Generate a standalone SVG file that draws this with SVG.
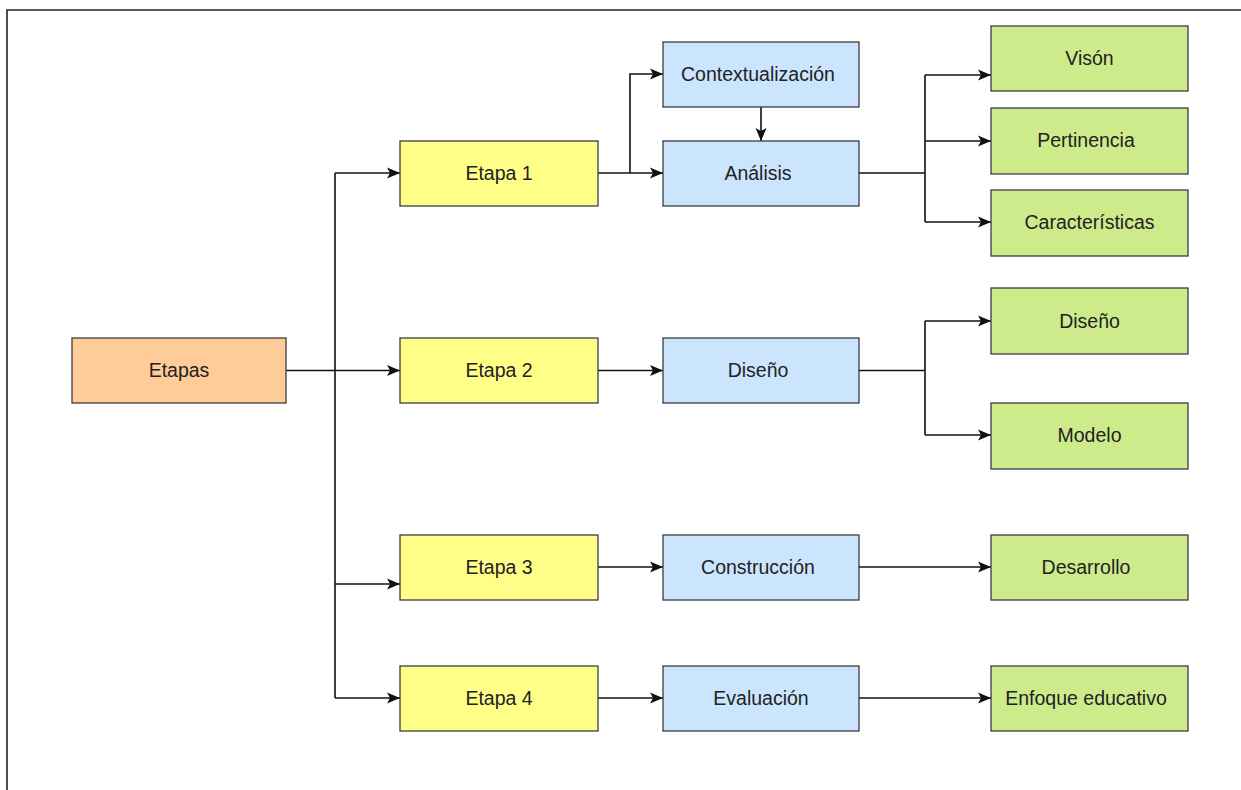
<svg xmlns="http://www.w3.org/2000/svg" width="1241" height="790" viewBox="0 0 1241 790">
  <defs>
    <style>
      .box { stroke: #3a3c40; stroke-width: 1.3; }
      .root { fill: #ffcc99; }
      .stage { fill: #ffff88; }
      .phase { fill: #cce5ff; }
      .leaf { fill: #cdeb8b; }
      .lbl { font-family: "Liberation Sans", Arial, sans-serif; font-size: 19.5px; fill: #222; text-anchor: middle; }
      .line { fill: none; stroke: #111; stroke-width: 1.6; }
      .edge { fill: none; stroke: #111; stroke-width: 1.6; marker-end: url(#arrow); }
      .frame { fill: none; stroke: #222; stroke-width: 1.6; }
    </style>
    <marker id="arrow" markerUnits="userSpaceOnUse" markerWidth="14" markerHeight="13" refX="13" refY="6.5" orient="auto">
      <path d="M0,1 L13,6.5 L0,12 L3,6.5 Z" fill="#111"/>
    </marker>
  </defs>

  <rect width="1241" height="790" fill="#ffffff"/>
  <!-- outer frame (top and left edges) -->
  <path class="frame" d="M1241,10 H7 V790"/>

  <g id="connectors">
    <!-- Etapas to the four stages -->
    <path class="line" d="M286,370.5 H335 M335,173 V698"/>
    <path class="edge" d="M335,173 H400"/>
    <path class="edge" d="M335,370.5 H400"/>
    <path class="edge" d="M335,584 H400"/>
    <path class="edge" d="M335,698 H400"/>
    <!-- Etapa 1 -->
    <path class="edge" d="M630,173 V74 H663"/>
    <path class="edge" d="M598,173 H663"/>
    <path class="edge" d="M761,107 V141"/>
    <!-- Análisis to leaves -->
    <path class="line" d="M859,173 H925 M925,75 V222"/>
    <path class="edge" d="M925,75 H991"/>
    <path class="edge" d="M925,141 H991"/>
    <path class="edge" d="M925,222 H991"/>
    <!-- Etapa 2 -->
    <path class="edge" d="M598,370.5 H663"/>
    <path class="line" d="M859,370.5 H925 M925,321 V435"/>
    <path class="edge" d="M925,321 H991"/>
    <path class="edge" d="M925,435 H991"/>
    <!-- Etapa 3 -->
    <path class="edge" d="M598,567 H663"/>
    <path class="edge" d="M859,567 H991"/>
    <!-- Etapa 4 -->
    <path class="edge" d="M598,698 H663"/>
    <path class="edge" d="M859,698 H991"/>
  </g>

  <g id="etapas">
    <rect class="box root" x="72" y="338" width="214" height="65"/>
    <text class="lbl" x="179" y="377">Etapas</text>
  </g>

  <g id="etapa1">
    <rect class="box stage" x="400" y="141" width="198" height="65"/>
    <text class="lbl" x="499" y="180">Etapa 1</text>
  </g>
  <g id="etapa2">
    <rect class="box stage" x="400" y="338" width="198" height="65"/>
    <text class="lbl" x="499" y="377">Etapa 2</text>
  </g>
  <g id="etapa3">
    <rect class="box stage" x="400" y="535" width="198" height="65"/>
    <text class="lbl" x="499" y="574">Etapa 3</text>
  </g>
  <g id="etapa4">
    <rect class="box stage" x="400" y="666" width="198" height="65"/>
    <text class="lbl" x="499" y="705">Etapa 4</text>
  </g>

  <g id="contextualizacion">
    <rect class="box phase" x="663" y="42" width="196" height="65"/>
    <text class="lbl" x="758" y="81">Contextualización</text>
  </g>
  <g id="analisis">
    <rect class="box phase" x="663" y="141" width="196" height="65"/>
    <text class="lbl" x="758" y="180">Análisis</text>
  </g>
  <g id="diseno-fase">
    <rect class="box phase" x="663" y="338" width="196" height="65"/>
    <text class="lbl" x="758" y="377">Diseño</text>
  </g>
  <g id="construccion">
    <rect class="box phase" x="663" y="535" width="196" height="65"/>
    <text class="lbl" x="758" y="574">Construcción</text>
  </g>
  <g id="evaluacion">
    <rect class="box phase" x="663" y="666" width="196" height="65"/>
    <text class="lbl" x="761" y="705">Evaluación</text>
  </g>

  <g id="vison">
    <rect class="box leaf" x="991" y="26" width="197" height="65"/>
    <text class="lbl" x="1089.5" y="65">Visón</text>
  </g>
  <g id="pertinencia">
    <rect class="box leaf" x="991" y="108" width="197" height="66"/>
    <text class="lbl" x="1086" y="147">Pertinencia</text>
  </g>
  <g id="caracteristicas">
    <rect class="box leaf" x="991" y="190" width="197" height="66"/>
    <text class="lbl" x="1089.5" y="229">Características</text>
  </g>
  <g id="diseno">
    <rect class="box leaf" x="991" y="288" width="197" height="66"/>
    <text class="lbl" x="1089.5" y="328">Diseño</text>
  </g>
  <g id="modelo">
    <rect class="box leaf" x="991" y="403" width="197" height="66"/>
    <text class="lbl" x="1089.5" y="442">Modelo</text>
  </g>
  <g id="desarrollo">
    <rect class="box leaf" x="991" y="535" width="197" height="65"/>
    <text class="lbl" x="1086" y="574">Desarrollo</text>
  </g>
  <g id="enfoque">
    <rect class="box leaf" x="991" y="666" width="197" height="65"/>
    <text class="lbl" x="1086" y="705">Enfoque educativo</text>
  </g>
</svg>
